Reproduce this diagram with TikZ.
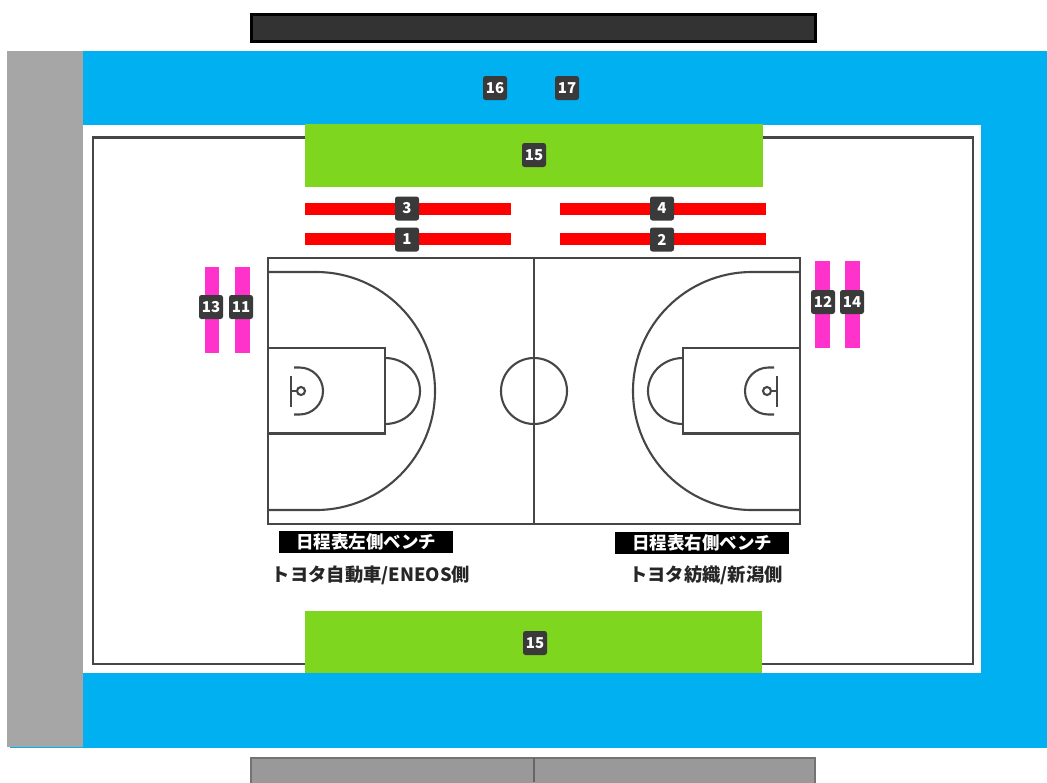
\documentclass[tikz,border=0pt]{standalone}
\usepackage{fontspec}
\setmainfont{Noto Sans CJK JP}
\usetikzlibrary{calc,positioning}
\definecolor{poolblue}{RGB}{0,176,240}
\definecolor{sidegray}{RGB}{166,166,166}
\definecolor{seatgreen}{RGB}{127,214,30}
\definecolor{seatpink}{RGB}{255,51,204}
\definecolor{badgegray}{RGB}{58,58,58}
\definecolor{linegray}{RGB}{70,70,70}
\begin{document}
\begin{tikzpicture}[x=1pt,y=-1pt,{badge/.style={rectangle,rounded corners=2.5pt,fill=badgegray,text=white,font=\fontsize{15}{15}\selectfont\bfseries,minimum width=24pt,minimum height=24pt,inner sep=0pt}},{benchlabel/.style={rectangle,fill=black,text=white,font=\fontsize{17.5}{18}\selectfont\bfseries,minimum width=174pt,minimum height=22pt,inner sep=0pt}},{sidelabel/.style={text=black!85,font=\fontsize{18.3}{19}\selectfont\bfseries,inner sep=0pt}},{courtline/.style={color=linegray,line width=2.1pt}},{redbar/.style={fill=red}},{pinkbar/.style={fill=seatpink}}]
	\useasboundingbox (0,0) rectangle (1047,782);
	%%stands
	\draw [fill=black!80,draw=black,line width=3pt] (251,14) rectangle (815,41);
	\draw [fill=black!40,draw=black!55,line width=2pt] (251,758) rectangle (815,790);
	\draw [black!60,line width=2pt] (533.5,758) -- (533.5,782);
	%%floor
	\fill [poolblue] (10,51) rectangle (1047,748);
	\fill [sidegray] (7,51) rectangle (83,747);
	\fill [white] (83,125) rectangle (981,673);
	\draw [courtline] (93,137.5) rectangle (973,664);
	%%green seats
	\fill [seatgreen] (305,124) rectangle (763,187);
	\fill [seatgreen] (305,611) rectangle (762,673);
	%%red seats
	\fill [redbar] (305,203) rectangle (511,215);
	\fill [redbar] (305,233) rectangle (511,245);
	\fill [redbar] (560,203) rectangle (766,215);
	\fill [redbar] (560,233) rectangle (766,245);
	%%pink seats
	\fill [pinkbar] (205,267) rectangle (219,353);
	\fill [pinkbar] (234.5,267) rectangle (250,353);
	\fill [pinkbar] (815,261) rectangle (830,348);
	\fill [pinkbar] (845,261) rectangle (860,348);
	%%court
	\draw [courtline] (268,258) rectangle (800,524);
	\draw [courtline] (534,258) -- (534,524);
	\draw [courtline] (534,391) circle (33);
	%%half court, drawn twice
	\foreach \xs/\xm in {0/1,1068/-1}{
		\begin{scope}[xshift=\xs pt,xscale=\xm]
			\draw [courtline] (268,348) rectangle (385,433.5);
			\draw [courtline] (385,358) arc [start angle=-90,end angle=90,x radius=35,y radius=33];
			\draw [courtline] (268,272) -- (316,272) arc [start angle=-90,end angle=90,x radius=119,y radius=119] -- (268,510);
			\draw [courtline] (294,367.5) -- (299.5,367.5) arc [start angle=-90,end angle=90,x radius=23.5,y radius=23.5] -- (294,414.5);
			\draw [courtline] (291,376) -- (291,407);
			\draw [courtline] (291,391) -- (297,391);
			\draw [courtline] (301,391) circle (4);
		\end{scope}
	}
	%%seat numbers
	\node [badge] (n16) at (495,88) {16};
	\node [badge] (n17) at (567,88) {17};
	\node [badge] (n15a) at (534,155) {15};
	\node [badge] (n15b) at (535,643) {15};
	\node [badge] (n3) at (407,208.5) {3};
	\node [badge] (n4) at (662,208.5) {4};
	\node [badge] (n1) at (407,239.5) {1};
	\node [badge] (n2) at (662,239.5) {2};
	\node [badge] (n13) at (211,307) {13};
	\node [badge] (n11) at (241,307) {11};
	\node [badge] (n12) at (823,302) {12};
	\node [badge] (n14) at (852,302) {14};
	%%bench labels
	\node [benchlabel] (benchL) at (366,542) {日程表左側ベンチ};
	\node [benchlabel] (benchR) at (702,543) {日程表右側ベンチ};
	\node [sidelabel] (sideL) at (371,575) {トヨタ自動車/ENEOS側};
	\node [sidelabel] (sideR) at (706,575) {トヨタ紡織/新潟側};
\end{tikzpicture}
\end{document}
